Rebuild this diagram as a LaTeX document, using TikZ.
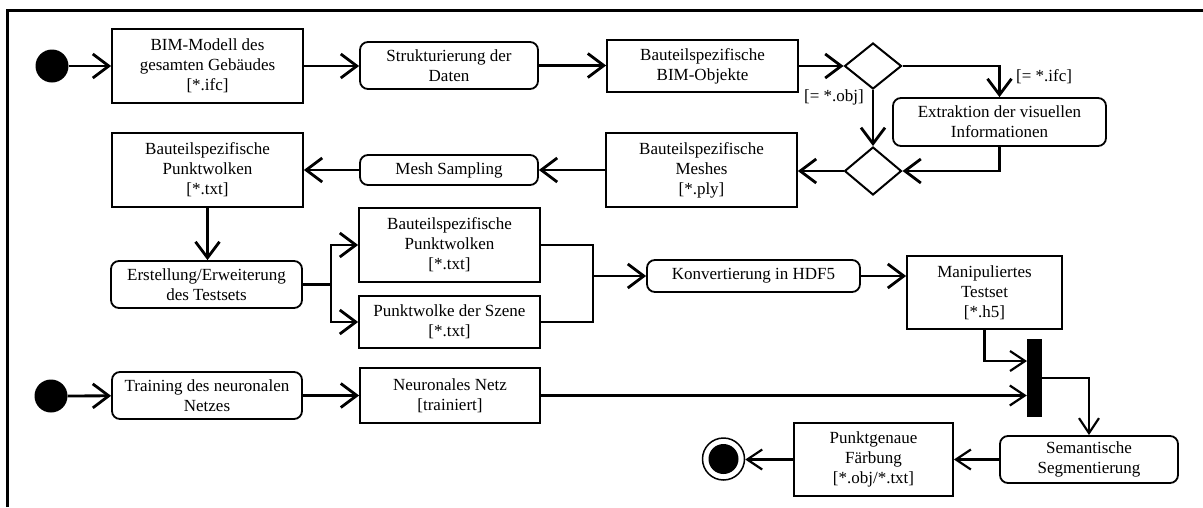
\documentclass[tikz,border=0pt]{standalone}
\usepackage{fontspec}
\setmainfont{Liberation Serif}
\usetikzlibrary{arrows.meta,shapes.geometric,calc}
\begin{document}
\begin{tikzpicture}[x=1pt,y=-1pt,
  every node/.style={font=\rmfamily\fontsize{17}{20}\selectfont, align=center, inner sep=0pt},
  wh/.style 2 args={minimum width=#1pt, minimum height=#2pt},
  rbox/.style={draw, line width=1.8pt, rounded corners=8pt},
  obox/.style={draw, line width=1.8pt},
  dec/.style={draw, diamond, line width=2pt, inner sep=0pt},
  initnode/.style={circle, fill, minimum size=33pt},
  plainline/.style={line width=2.8pt},
  flow/.style={line width=2.8pt, -{Straight Barb[length=16pt,width=24pt]}},
  flowthin/.style={line width=2.2pt, -{Straight Barb[length=15pt,width=20pt]}},
  frameline/.style={line width=3pt}
]
\useasboundingbox (0,0) rectangle (1203,507);
\draw[frameline] (7,507) -- (7,10) -- (1203,10);

\node[initnode] (s1) at (52,66) {};
\node[obox, wh={191}{74}] (bim) at (207.5,66) {BIM-Modell des\\gesamten Gebäudes\\{}[*.ifc]};
\node[rbox, wh={178}{47}] (strukt) at (449,65.5) {Strukturierung der\\Daten};
\node[obox, wh={191}{52}] (obj) at (702.5,66) {Bauteilspezifische\\BIM-Objekte};
\node[dec, wh={57}{46}] (d1) at (873,66) {};
\node[rbox, wh={213}{48}] (extr) at (999.5,122) {Extraktion der visuellen\\Informationen};
\node[dec, wh={57}{48}] (d2) at (873,171) {};
\node[obox, wh={191}{74}] (mesh) at (701.5,170) {Bauteilspezifische\\Meshes\\{}[*.ply]};
\node[rbox, wh={178}{30}] (samp) at (449,170) {Mesh Sampling};
\node[obox, wh={191}{74}] (pw1) at (207.5,170) {Bauteilspezifische\\Punktwolken\\{}[*.txt]};
\node[rbox, wh={191}{47}] (erst) at (206.5,284.5) {Erstellung/Erweiterung\\des Testsets};
\node[obox, wh={181}{74}] (pw2) at (449.5,245) {Bauteilspezifische\\Punktwolken\\{}[*.txt]};
\node[obox, wh={181}{52}] (szene) at (449.5,322) {Punktwolke der Szene\\{}[*.txt]};
\node[rbox, wh={213}{32}] (konv) at (753.5,276) {Konvertierung in HDF5};
\node[obox, wh={155}{73}] (manip) at (984.5,292.5) {Manipuliertes\\Testset\\{}[*.h5]};
\node[initnode] (s2) at (51,396) {};
\node[rbox, wh={190}{47}] (train) at (207,395.5) {Training des neuronalen\\Netzes};
\node[obox, wh={180}{55}] (netz) at (450,395.5) {Neuronales Netz\\{}[trainiert]};
\node[fill, wh={15}{78}] (bar) at (1034.5,378) {};
\node[rbox, wh={178}{47}] (sem) at (1089,459.5) {Semantische\\Segmentierung};
\node[obox, wh={159}{73}] (farb) at (873.5,459.5) {Punktgenaue\\Färbung\\{}[*.obj/*.txt]};
\node[circle, draw, line width=1.5pt, minimum size=42pt] (end) at (723.5,459) {};
\fill (end.center) circle (15pt);

\node[anchor=west] (lifc) at (1016,77) {[= *.ifc]};
\node (lobj) at (834,97) {[= *.obj]};

\draw[flow] (s1) -- (bim);
\draw[flow] (bim.east) -- (bim.east -| strukt.west);
\draw[flow] (strukt.east) -- (strukt.east -| obj.west);
\draw[flow] (obj.east) -- (obj.east -| d1.west);
\draw[flow] (d1.east) -| (extr.north);
\draw[flow] (d1.south) -- (d2.north);
\draw[flow] (extr.south) |- (d2.east);
\draw[flow] (d2.west) -- (d2.west -| mesh.east);
\draw[flow] (mesh.west) -- (mesh.west -| samp.east);
\draw[flow] (samp.west) -- (samp.west -| pw1.east);
\draw[flow] (pw1.south) -- (pw1.south |- erst.north);
\coordinate (split) at (331,284.5);
\draw[plainline] (erst.east) -- (split);
\draw[flow] (split) |- (pw2.west);
\draw[flow] (split) |- (szene.west);
\coordinate (merge) at (593,276);
\draw[plainline] (pw2.east) -| (merge);
\draw[plainline] (szene.east) -| (merge);
\draw[flow] (merge) -- (konv.west);
\draw[flow] (konv.east) -- (konv.east -| manip.west);
\coordinate (barin) at (1027,361);
\draw[flowthin] (manip.south) |- (barin);
\draw[flowthin] (netz.east) -- (netz.east -| bar.west);
\draw[flowthin] (bar.east) -| (sem.north);
\draw[flowthin] (sem.west) -- (sem.west -| farb.east);
\draw[flowthin] (farb.west) -- (farb.west -| end.east);
\draw[flow] (s2) -- (train);
\draw[flow] (train.east) -- (train.east -| netz.west);
\end{tikzpicture}
\end{document}
